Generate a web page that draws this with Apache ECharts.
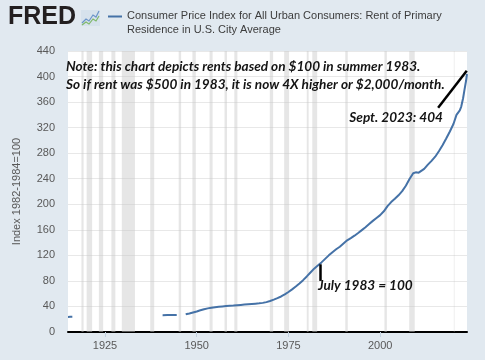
<!DOCTYPE html>
<html>
<head>
<meta charset="utf-8">
<script src="https://cdn.jsdelivr.net/npm/echarts@6/dist/echarts.min.js"></script>
<style>
  html, body { margin: 0; padding: 0; background: #e1e9f0; }
  #chart { width: 485px; height: 360px; }
</style>
</head>
<body>
<div id="chart"></div>
<script>
// ---- Data (decimal years; null = gap in the series) ----
const years = [
  1914.92, 1915.5, 1916.1, 1930,
  1940.7, 1942, 1943, 1944, 1944.55, 1946,
  1947.0, 1948, 1949, 1950, 1951, 1952, 1953, 1954, 1955, 1956, 1957, 1958, 1959,
  1960, 1961, 1962, 1963, 1964, 1965, 1966, 1967, 1968, 1969,
  1970, 1971, 1972, 1973, 1974, 1975, 1976, 1977, 1978, 1979,
  1980, 1981, 1982, 1983, 1984, 1985, 1986, 1987, 1988, 1989,
  1990, 1991, 1992, 1993, 1994, 1995, 1996, 1997, 1998, 1999,
  2000, 2001, 2002, 2003, 2004, 2005, 2006, 2007, 2008, 2009, 2009.7,
  2010.5, 2011, 2012, 2013, 2014, 2015, 2016, 2017, 2018, 2019,
  2020, 2020.8, 2021.7, 2022.1, 2022.6, 2023.0, 2023.4, 2023.66
];
const rent = [
  23.6, 23.7, 23.8, null,
  26.3, 26.5, 26.6, 26.7, 26.8, null,
  27.7, 29.0, 30.5, 32.0, 34.0, 35.7, 37.0, 38.0, 38.8, 39.5, 40.1, 40.6, 41.0,
  41.4, 41.9, 42.4, 42.9, 43.4, 43.9, 44.4, 44.9, 45.6, 46.8,
  48.5, 50.6, 53.0, 55.6, 58.8, 62.6, 66.8, 71.2, 76.0, 81.2,
  87.0, 93.2, 99.2, 104.0, 109.0, 114.5, 120.0, 125.0, 129.5, 133.5,
  138.5, 143.5, 147.0, 150.8, 155.0, 159.5, 164.0, 169.0, 174.0, 178.5,
  183.0, 189.0, 197.0, 203.5, 208.5, 214.0, 220.5, 229.0, 239.5, 248.5, 250.0,
  249.5, 250.5, 255.5, 262.0, 268.0, 274.5, 283.0, 292.5, 303.0, 314.0,
  326.0, 340.0, 347.0, 353.0, 366.0, 380.0, 393.0, 404.0
];
// NBER recession periods (decimal years)
const recStart = [1918.58, 1920.0, 1923.33, 1926.75, 1929.58, 1937.33, 1945.08, 1948.83, 1953.5, 1957.58, 1960.25, 1969.92, 1973.83, 1980.0, 1981.5, 1990.5, 2001.17, 2007.92, 2020.08];
const recEnd   = [1919.17, 1921.5, 1924.5, 1927.83, 1933.17, 1938.42, 1945.75, 1949.75, 1954.33, 1958.25, 1961.08, 1970.83, 1975.17, 1980.5, 1982.83, 1991.17, 2001.83, 2009.42, 2020.25];
const xTicks = [1925, 1950, 1975, 2000];
const seriesName = 'Consumer Price Index for All Urban Consumers: Rent of Primary\nResidence in U.S. City Average';

const chart = echarts.init(document.getElementById('chart'));
const data = years.map((y, i) => [y, rent[i]]);
const recAreas = recStart.map((s, i) => [{ xAxis: s }, { xAxis: recEnd[i] }]);

const axisFont = '"Liberation Sans", Arial, sans-serif';
const noteFont = 'italic bold 13.6px Lato, "Open Sans", sans-serif';

chart.setOption({
  backgroundColor: '#e1e9f0',
  animation: false,
  grid: { left: 68, right: 18, top: 51, bottom: 28, show: true, backgroundColor: '#ffffff', borderWidth: 0 },
  xAxis: {
    type: 'value',
    min: 1914 + 11 / 12,
    max: 2023 + 8 / 12,
    splitLine: { show: false },
    axisLine: { show: true, onZero: true, lineStyle: { color: '#000000', width: 2 } },
    axisTick: { show: true, customValues: xTicks, length: 5, lineStyle: { color: '#c2d1df' } },
    axisLabel: { customValues: xTicks, color: '#595959', fontSize: 11, fontFamily: axisFont, margin: 8, formatter: v => String(Math.round(v)) }
  },
  yAxis: {
    type: 'value',
    min: 0, max: 440, interval: 40,
    name: 'Index 1982-1984=100',
    nameLocation: 'middle',
    nameGap: 46,
    nameTextStyle: { color: '#595959', fontSize: 11, fontFamily: axisFont },
    axisLine: { show: false },
    axisTick: { show: false },
    axisLabel: { color: '#595959', fontSize: 11, fontFamily: axisFont, margin: 13 },
    splitLine: { lineStyle: { color: '#e8e8e8', width: 1 } }
  },
  series: [{
    name: seriesName,
    type: 'line',
    data: data,
    showSymbol: false,
    connectNulls: false,
    lineStyle: { color: '#4572a7', width: 2 },
    itemStyle: { color: '#4572a7' },
    z: 3,
    markArea: {
      silent: true,
      itemStyle: { color: 'rgba(200,200,200,0.45)' },
      data: recAreas
    },
    markLine: {
      silent: true,
      symbol: 'none',
      label: { show: false },
      lineStyle: { color: '#000000', width: 2.5, type: 'solid' },
      data: [
        [{ coord: [2015.8, 351] }, { coord: [2023.6, 409] }],
        [{ coord: [1983.8, 106] }, { coord: [1983.8, 80] }]
      ]
    }
  }],
  graphic: [
    { type: 'text', left: 8, top: 5, z: 10,
      style: { text: 'FRED', font: '900 25px "Liberation Sans", Arial, sans-serif', fill: '#231f20' } },
    { type: 'rect', left: 81, top: 10, z: 10, shape: { width: 19, height: 16 }, style: { fill: '#d6e2ec' } },
    { type: 'polyline', z: 11, shape: { points: [[82, 23], [86, 19], [89, 21], [93, 15], [96, 17], [99, 11]] }, style: { stroke: '#6b95c8', lineWidth: 1.2, fill: 'none' } },
    { type: 'polyline', z: 11, shape: { points: [[82, 25], [86, 22], [89, 24], [93, 19], [96, 21], [99, 16]] }, style: { stroke: '#7fb86a', lineWidth: 1.2, fill: 'none' } },
    { type: 'line', z: 10, shape: { x1: 108, y1: 16.5, x2: 122, y2: 16.5 }, style: { stroke: '#4572a7', lineWidth: 2 } },
    { type: 'text', left: 127, top: 9, z: 10,
      style: { text: seriesName, font: '11px "Liberation Sans", Arial, sans-serif', fill: '#3c3c3c', lineHeight: 14.3 } },
    { type: 'text', left: 66, top: 60, z: 20,
      style: { text: 'Note: this chart depicts rents based on $100 in summer 1983.', font: noteFont, fill: '#141414' } },
    { type: 'text', left: 66, top: 78, z: 20,
      style: { text: 'So if rent was $500 in 1983, it is now 4X higher or $2,000/month.', font: noteFont, fill: '#141414' } },
    { type: 'text', right: 42, top: 111, z: 20,
      style: { text: 'Sept. 2023: 404', font: noteFont, fill: '#141414' } },
    { type: 'text', left: 318, top: 279, z: 20,
      style: { text: 'July 1983 = 100', font: noteFont, fill: '#141414' } }
  ]
});
</script>
</body>
</html>
